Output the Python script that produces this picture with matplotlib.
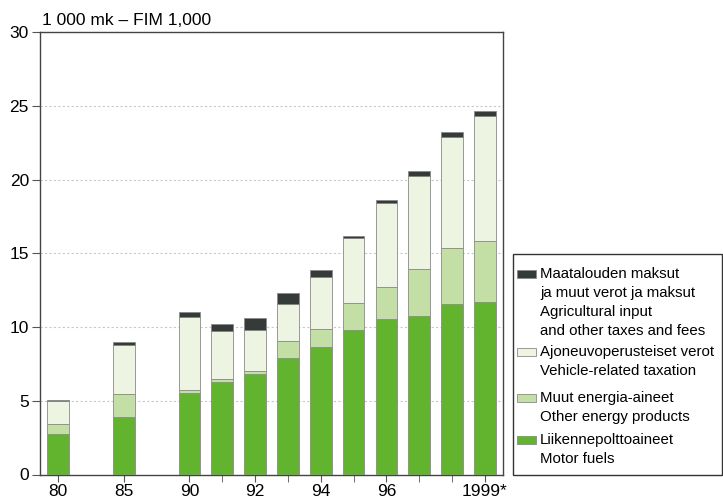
import numpy as np
import matplotlib.pyplot as plt
from matplotlib.patches import Rectangle

plt.rcParams['font.family'] = ['Liberation Sans Narrow', 'Liberation Sans', 'DejaVu Sans']

# data (1 000 mk)
years = ['80', '85', '90', '91', '92', '93', '94', '95', '96', '97', '98', '99']
pos = [0, 2, 4, 5, 6, 7, 8, 9, 10, 11, 12, 13]
motor = [2.75, 3.88, 5.50, 6.25, 6.79, 7.88, 8.67, 9.80, 10.52, 10.77, 11.54, 11.72]
other_energy = [0.65, 1.56, 0.23, 0.22, 0.23, 1.17, 1.19, 1.85, 2.21, 3.16, 3.82, 4.11]
vehicle = [1.60, 3.32, 4.97, 3.26, 2.78, 2.49, 3.51, 4.40, 5.65, 6.31, 7.50, 8.47]
agri = [0.08, 0.20, 0.30, 0.45, 0.80, 0.74, 0.49, 0.15, 0.22, 0.33, 0.36, 0.37]

tick_pos = [0, 2, 4, 6, 8, 10, 13]
tick_lab = ['80', '85', '90', '92', '94', '96', '1999*']

labels = [['Maatalouden maksut', 'ja muut verot ja maksut', 'Agricultural input',
           'and other taxes and fees'],
          ['Ajoneuvoperusteiset verot', 'Vehicle-related taxation'],
          ['Muut energia-aineet', 'Other energy products'],
          ['Liikennepolttoaineet', 'Motor fuels']]
colors = ['#353b38', '#eef4e2', '#c4dfa6', '#62b42f']

W, H = 723, 503
fig = plt.figure(figsize=(7.23, 5.03), dpi=100)
ax = fig.add_axes([40 / W, 1 - 474.5 / H, 463 / W, 442.5 / H])

w = 0.66
ec = '#8a8a8a'
b = np.zeros(len(pos))
for vals, c in [(motor, colors[3]), (other_energy, colors[2]), (vehicle, colors[1]), (agri, colors[0])]:
    ax.bar(pos, vals, w, bottom=b, color=c, edgecolor=ec, linewidth=0.6, zorder=3)
    b += np.array(vals)

ax.set_xlim(-0.55, 13.55)
ax.set_ylim(0, 30)
ax.set_yticks(range(0, 31, 5))
for y in range(5, 30, 5):
    ax.axhline(y, color='#c8c8c8', linestyle=(0, (2, 2)), linewidth=0.8, zorder=1)

ax.set_xticks(pos, minor=True)
ax.set_xticks(tick_pos)
ax.set_xticklabels(tick_lab)
ax.tick_params(axis='x', which='both', length=5, color='#555555', labelsize=12.5, pad=2)
ax.tick_params(axis='y', length=6, color='#555555', labelsize=12.5, pad=2)
for s in ax.spines.values():
    s.set_color('#444444')
    s.set_linewidth(1.0)

fig.text(42 / W, 1 - 25 / H, '1 000 mk \u2013 FIM 1,000', fontsize=12.5, ha='left', va='baseline')

# legend drawn by hand so the swatch sits by the first line of each entry
fig.patches.append(Rectangle((513 / W, 1 - 475 / H), 209 / W, 221 / H, transform=fig.transFigure,
                             facecolor='white', edgecolor='#333333', linewidth=1.0))
line_y = [[274, 293, 312, 331], [352, 371], [398, 417], [440, 459]]
for lines, ys, c in zip(labels, line_y, colors):
    fig.patches.append(Rectangle((517 / W, 1 - (ys[0] + 4) / H), 19 / W, 8 / H,
                                 transform=fig.transFigure, facecolor=c,
                                 edgecolor=ec, linewidth=0.6))
    for txt, y in zip(lines, ys):
        fig.text(540 / W, 1 - y / H, txt, fontsize=10.8, ha='left', va='center')

fig.savefig('out.png', dpi=100)
